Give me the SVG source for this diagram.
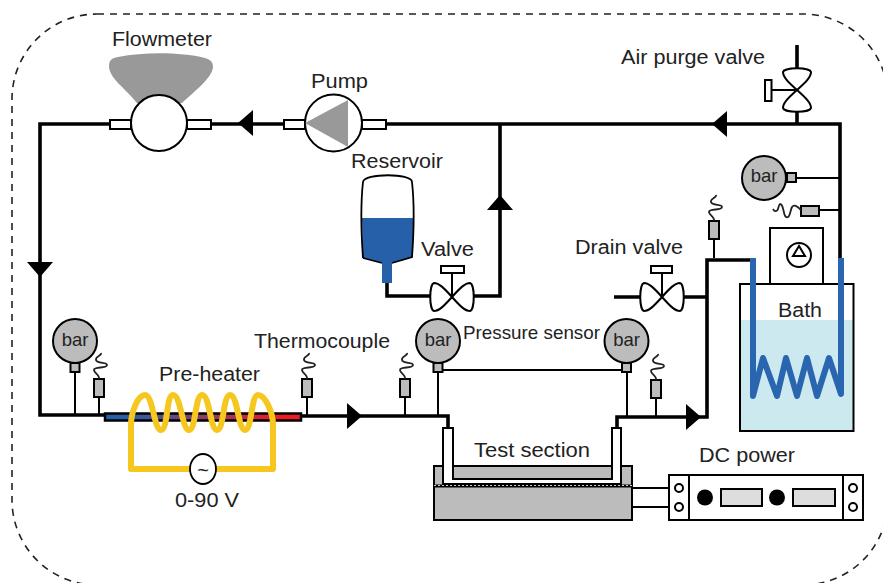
<svg xmlns="http://www.w3.org/2000/svg" width="883" height="583" viewBox="0 0 883 583">
<style>
text{font-family:"Liberation Sans",Arial,sans-serif;fill:#222}
.l{font-size:20px}
.b{font-size:18.500px}
.pipe{fill:none;stroke:#000;stroke-width:3.600}
.thin{fill:none;stroke:#000;stroke-width:2}
.box{stroke:#000;stroke-width:2}
.gray{fill:#bcbcbc}
.white{fill:#fff}
.sq{fill:none;stroke:#222;stroke-width:1.800}
.blue{fill:none;stroke:#2a66b0;stroke-width:6;stroke-linecap:round;stroke-linejoin:round}
.yel{fill:none;stroke:#f5c71f;stroke-width:6;stroke-linejoin:round}
</style>
<defs>
<linearGradient id="heat" x1="0" x2="1" y1="0" y2="0"><stop offset="0.1" stop-color="#2560a8"/><stop offset="0.9" stop-color="#ed1c24"/></linearGradient>
<g id="sensor"><path class="thin" d="M0 0V-19"/><rect class="box gray" x="-5" y="-37" width="10" height="18"/><path class="sq" d="M0 -37C1 -41 -5 -43 -5 -46C-5 -50 8 -47 8 -51C8 -54 -2 -52 -3 -56C-4 -60 3 -60 2 -63"/></g>
<g id="gauge"><circle class="box gray" cx="0" cy="0" r="22"/><rect class="box gray" x="-4.500" y="22" width="9" height="9"/><text class="b" x="0" y="4.500" text-anchor="middle">bar</text></g>
<path id="valveshape" d="M0 0C-8 -9 -13 -14 -18 -14C-23 -13 -23 13 -18 14C-13 14 -8 9 0 0C8 -9 13 -14 18 -14C23 -13 23 13 18 14C13 14 8 9 0 0Z" fill="#fff" stroke="#000" stroke-width="2"/>
<path id="tri" d="M0 -13L15 0L0 13Z" fill="#000"/>
</defs>
<rect id="enclosure" x="12" y="14" width="876" height="571" rx="85" ry="85" fill="none" stroke="#222" stroke-width="1.600" stroke-dasharray="7 6"/>
<g id="connectors">
<path class="pipe" d="M840 258V124H40V415H105"/>
<path class="pipe" d="M301 416H448V428"/>
<path class="pipe" d="M500 124V296H473M431 296H387V283"/>
<path class="pipe" d="M614 297H640M683 297H707"/>
<path class="pipe" d="M752 260H707V417H617V428"/>
<path class="pipe" d="M797 45V72M797 110V124"/>
<path class="thin" d="M443 370H622"/>
<path class="thin" d="M632 488H669M632 507H669"/>
<use href="#tri" transform="translate(253 123) rotate(180)"/>
<use href="#tri" transform="translate(727 124) rotate(180)"/>
<use href="#tri" transform="translate(500 210) rotate(-90)"/>
<use href="#tri" transform="translate(40 262) rotate(90)"/>
<use href="#tri" transform="translate(347 416)"/>
<use href="#tri" transform="translate(686 417)"/>
</g>
<g id="flowmeter">
<path d="M137 103C125 88 109 78 109 66C109 60 112 58 118 57C145 52 180 52 205 58C211 60 213 62 213 67C212 78 196 90 182 103Z" fill="#999"/>
<rect class="box white" x="110" y="120" width="21" height="9"/>
<rect class="box white" x="187" y="120" width="24" height="9"/>
<circle class="box white" cx="159" cy="123" r="28"/>
<text class="l" x="112" y="46" textLength="100" lengthAdjust="spacingAndGlyphs">Flowmeter</text>
</g>
<g id="pump">
<rect class="box white" x="284" y="120" width="21" height="9"/>
<rect class="box white" x="362" y="120" width="24" height="9"/>
<circle class="box white" cx="333.500" cy="123" r="28.500"/>
<path d="M305 123L348 100V147Z" fill="#999"/>
<text class="l" x="311" y="88" textLength="57" lengthAdjust="spacingAndGlyphs">Pump</text>
</g>
<g id="reservoir">
<path d="M362 218H413V257L392 263V283H382V263L363 258Z" fill="#2560a8"/>
<path d="M363 258C361 230 361 200 363 182C364 173 412 173 412 182C414 200 414 230 412 257L392 263M382 263L363 258" fill="none" stroke="#000" stroke-width="1.800"/>
<text class="l" x="351" y="168" textLength="92" lengthAdjust="spacingAndGlyphs">Reservoir</text>
</g>
<g id="valve">
<path class="thin" d="M452 273V297"/>
<rect class="box white" x="441" y="266" width="23" height="7"/>
<use href="#valveshape" x="452" y="297"/>
<text class="l" x="421" y="256" textLength="53" lengthAdjust="spacingAndGlyphs">Valve</text>
</g>
<g id="drain-valve">
<path class="thin" d="M662 273V297"/>
<rect class="box white" x="651" y="266" width="21" height="7"/>
<use href="#valveshape" x="662" y="297"/>
<text class="l" x="575" y="254" textLength="108" lengthAdjust="spacingAndGlyphs">Drain valve</text>
</g>
<g id="air-purge-valve">
<use href="#valveshape" transform="translate(797 90) rotate(90)"/>
<path class="thin" d="M771 90H797"/>
<rect class="box white" x="765" y="80" width="6.500" height="21"/>
<text class="l" x="621" y="64" textLength="144" lengthAdjust="spacingAndGlyphs">Air purge valve</text>
</g>
<g id="gauge-bath">
<path class="thin" d="M796 178H840"/>
<circle class="box gray" cx="764" cy="178" r="22"/>
<rect class="box gray" x="787" y="173" width="9" height="9"/>
<text class="b" x="764" y="181.500" text-anchor="middle">bar</text>
</g>
<g id="sensor-bath">
<path class="thin" d="M819 210H840"/>
<rect class="box gray" x="801" y="206" width="18" height="10"/>
<path class="sq" d="M801 210C797 206 794 204 792 207C790 211 790 219 786 217C783 215 784 204 780 204C778 205 779 212 775 211C774 211 774 211 773 209"/>
</g>
<g id="sensor-drain"><use href="#sensor" x="714" y="258"/></g>
<g id="gauge-inlet"><path class="thin" d="M75 372V415"/><use href="#gauge" x="75" y="341"/></g>
<g id="sensor-inlet"><use href="#sensor" x="99" y="416"/></g>
<g id="pre-heater">
<rect x="105" y="413.500" width="196" height="7" fill="url(#heat)" stroke="#000" stroke-width="2.500"/>
<path class="yel" d="M203 469H131V425C131 412 138 395 145 395C153 395 154 430 161 430C168 430 166 395 173 395C181 395 182 430 189 430C196 430 195 395 202 395C210 395 210 430 217 430C224 430 223 395 230 395C238 395 238 430 245 430C252 430 251 395 258 395C265 395 273 412 273 425V469H203"/>
<ellipse cx="203" cy="469" rx="13" ry="15" fill="#fff" stroke="#000" stroke-width="1.800"/>
<text x="203" y="477" text-anchor="middle" style="font-size:20px">~</text>
<text class="l" x="159" y="381" textLength="101" lengthAdjust="spacingAndGlyphs">Pre-heater</text>
<text class="l" x="175" y="507" textLength="64" lengthAdjust="spacingAndGlyphs">0-90 V</text>
</g>
<g id="thermocouple">
<use href="#sensor" x="307" y="416"/>
<text class="l" x="254" y="348" textLength="136" lengthAdjust="spacingAndGlyphs">Thermocouple</text>
</g>
<g id="sensor-ts-in"><use href="#sensor" x="405" y="416"/></g>
<g id="gauge-ts-in"><path class="thin" d="M438 372V415"/><use href="#gauge" x="438" y="341"/></g>
<g id="gauge-ts-out"><path class="thin" d="M627 372V416"/><use href="#gauge" x="626.500" y="341"/></g>
<g id="sensor-ts-out"><use href="#sensor" x="656" y="417"/></g>
<text class="b" x="463" y="339" textLength="137" lengthAdjust="spacingAndGlyphs">Pressure sensor</text>
<g id="test-section">
<rect class="box gray" x="434" y="466" width="198" height="54"/>
<path d="M443 428H453V479H612V428H621V484H443Z" fill="#fff" stroke="#000" stroke-width="2"/>
<path d="M434 486H632" stroke="#000" stroke-width="3"/>
<path d="M434 485.500H632" stroke="#ccc" stroke-width="1" stroke-dasharray="2 2"/>
<text class="l" x="474" y="457" textLength="116" lengthAdjust="spacingAndGlyphs">Test section</text>
</g>
<g id="dc-power">
<rect class="box white" x="669" y="475" width="194" height="45"/>
<path class="thin" d="M689 475V520M843 475V520"/>
<circle class="box white" cx="679" cy="488" r="4"/>
<circle class="box white" cx="679" cy="507" r="4"/>
<circle class="box white" cx="853" cy="488" r="4"/>
<circle class="box white" cx="853" cy="507" r="4"/>
<circle cx="705" cy="497.500" r="8" fill="#000"/>
<circle cx="777" cy="497.500" r="8" fill="#000"/>
<rect class="box" x="721" y="489" width="41" height="17" fill="#ddd"/>
<rect class="box" x="793" y="489" width="42" height="17" fill="#ddd"/>
<text class="l" x="699" y="462" textLength="96" lengthAdjust="spacingAndGlyphs">DC power</text>
</g>
<g id="bath">
<rect x="740" y="320" width="113" height="110" fill="#cde9f0"/>
<rect x="740" y="284" width="113.500" height="147" fill="none" stroke="#000" stroke-width="2"/>
<rect class="box white" x="770" y="228" width="53" height="56"/>
<circle cx="799" cy="255" r="12" fill="none" stroke="#000" stroke-width="2"/>
<path d="M799 246L793 256H805Z" fill="none" stroke="#000" stroke-width="2"/>
<path class="blue" style="stroke-linecap:butt" d="M753 258V396L763 358L777 396L786 358L797 396L807 358L817 396L829 358L841 394V258"/>
<text class="l" x="778" y="317" textLength="44" lengthAdjust="spacingAndGlyphs">Bath</text>
</g>
</svg>
